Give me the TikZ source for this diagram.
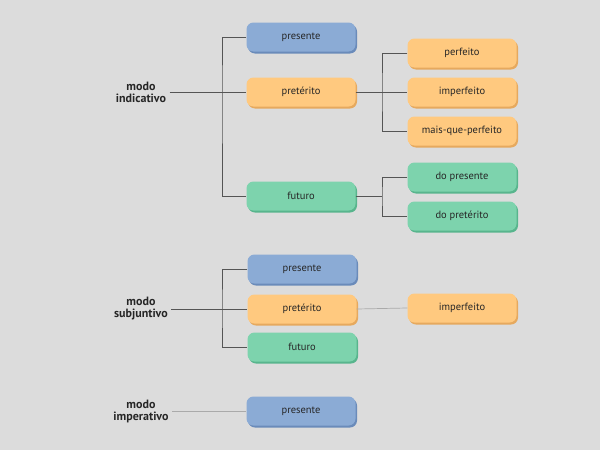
\documentclass[tikz,border=0pt]{standalone}
\usepackage{fontspec}
\setmainfont{PT Sans}
\usetikzlibrary{shadows}
\definecolor{bg}{HTML}{DCDCDC}
\definecolor{bluef}{HTML}{8BABD5}
\definecolor{blues}{HTML}{6A8BBA}
\definecolor{orf}{HTML}{FFC97F}
\definecolor{ors}{HTML}{E6A95E}
\definecolor{grf}{HTML}{7DD3AD}
\definecolor{grs}{HTML}{58B58D}
\definecolor{lnd}{HTML}{555555}
\definecolor{lnl}{HTML}{AAAAAA}
\tikzset{
  box/.style={rounded corners=7pt, minimum width=109pt, minimum height=29pt, inner sep=0pt, font=\fontsize{10.5}{12}\selectfont, text=black!85},
  bluebox/.style={box, fill=bluef, drop shadow={shadow xshift=1.5pt, shadow yshift=-2pt, fill=blues, opacity=1}},
  orbox/.style={box, fill=orf, drop shadow={shadow xshift=1.5pt, shadow yshift=-2pt, fill=ors, opacity=1}},
  grbox/.style={box, fill=grf, drop shadow={shadow xshift=1.5pt, shadow yshift=-2pt, fill=grs, opacity=1}},
  modo/.style={align=center, font=\fontsize{12}{12}\selectfont\bfseries, text=black!85},
  ln/.style={draw=lnd, line width=0.7pt},
  lnlight/.style={draw=lnl, line width=0.7pt}
}
\begin{document}
\begin{tikzpicture}[x=1pt,y=-1pt]
\fill[bg] (0,0) rectangle (600,450);
\useasboundingbox (0,0) rectangle (600,450);
% indicativo
\node[modo] (ind) at (141,92) {modo\\indicativo};
\node[bluebox] (ipres) at (301,37) {presente};
\node[orbox] (ipret) at (301,92) {pretérito};
\node[grbox] (ifut) at (301,196) {futuro};
\node[orbox] (iperf) at (462,53) {perfeito};
\node[orbox] (iimp) at (462,92) {imperfeito};
\node[orbox] (imqp) at (462,131) {mais-que-perfeito};
\node[grbox] (idp) at (462,177) {do presente};
\node[grbox] (idpt) at (462,216) {do pretérito};
\coordinate (ja) at (222,92);
\coordinate (jb) at (382,92);
\coordinate (jc) at (382,196);
\draw[ln] (ind.east) -- (ipret.west);
\draw[ln] (ipres.west) -| (ja) |- (ifut.west);
\draw[ln] (ipret.east) -- (iimp.west);
\draw[ln] (iperf.west) -| (jb) |- (imqp.west);
\draw[ln] (ifut.east) -- (jc);
\draw[ln] (idp.west) -| (jc) |- (idpt.west);
% subjuntivo
\node[modo] (sub) at (141,309) {modo\\subjuntivo};
\node[bluebox] (spres) at (302,269) {presente};
\node[orbox] (spret) at (302,309) {pretérito};
\node[grbox] (sfut) at (302,347) {futuro};
\node[orbox] (simp) at (462,308) {imperfeito};
\coordinate (jd) at (222,309);
\draw[ln] (sub.east) -- (spret.west);
\draw[ln] (spres.west) -| (jd) |- (sfut.west);
\draw[lnlight] (spret.east) -- (simp.west);
% imperativo
\node[modo] (imp) at (141,411) {modo\\imperativo};
\node[bluebox] (ppres) at (301,411) {presente};
\draw[lnlight] (imp.east) -- (ppres.west);
\end{tikzpicture}
\end{document}
